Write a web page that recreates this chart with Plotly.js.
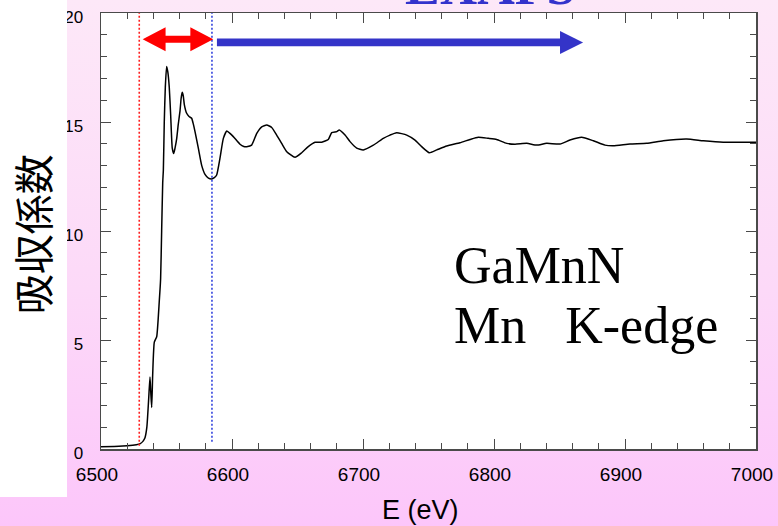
<!DOCTYPE html>
<html>
<head>
<meta charset="utf-8">
<script src="https://cdn.plot.ly/plotly-3.0.1.min.js"></script>
<style>
  html, body { margin: 0; padding: 0; }
  body {
    width: 778px; height: 526px; overflow: hidden;
    background: linear-gradient(to bottom, #fde8f8 0%, #fcd9f8 55%, #fcc6fa 100%);
  }
  #chart { width: 778px; height: 526px; }
</style>
</head>
<body>
<div id="chart"></div>
<script>
// Mn K-edge absorption spectrum of GaMnN
const energy = [
  6500, 6510, 6520, 6527, 6530, 6532, 6533.5, 6535, 6536.3, 6537.4,
  6538, 6538.7, 6539.5, 6540.7, 6542.5, 6544.5, 6545.5, 6546.3, 6547.1, 6547.6,
  6548.3, 6549.1, 6550.1, 6551, 6552.1, 6553.2, 6554.4, 6555.5, 6556.5, 6557.8,
  6559, 6560.3, 6561.2, 6562, 6562.8, 6563.6, 6565.4, 6567.2, 6569.2, 6570.5,
  6571.8, 6574.3, 6576.9, 6579.4, 6582, 6584.5, 6586.5, 6588.3, 6590.8, 6593.4,
  6596, 6598, 6601, 6606.1, 6609, 6611.2, 6615, 6618.9, 6622.7, 6626.5,
  6630.3, 6634.1, 6637.9, 6641.8, 6648.1, 6653.2, 6658.2, 6663.4, 6668.5, 6673.5,
  6676.1, 6680, 6681.9, 6686.3, 6690.1, 6695.2, 6700.2, 6707.9, 6715.5, 6720.6,
  6725.7, 6733.4, 6739.7, 6744.8, 6750.6, 6756.3, 6763.9, 6774, 6781.7, 6788,
  6795.7, 6802, 6809.7, 6816, 6825, 6832.6, 6840.2, 6850.4, 6858, 6866.9,
  6875.8, 6884.7, 6891, 6903.8, 6916.6, 6929.2, 6947, 6959.8, 6975, 6995.4, 7000
];
const absorption = [
  0.10, 0.12, 0.15, 0.20, 0.25, 0.35, 0.50, 1.00, 2.20, 3.30,
  2.60, 1.90, 3.50, 4.90, 5.15, 6.80, 7.80, 10.0, 12.2, 12.8,
  15.0, 16.6, 17.55, 17.3, 16.6, 15.3, 13.8, 13.55, 13.8, 14.25,
  14.9, 15.5, 16.1, 16.36, 16.2, 15.8, 15.4, 15.25, 15.17, 14.9,
  14.55, 13.8, 13.0, 12.6, 12.43, 12.39, 12.45, 12.57, 13.33, 14.25,
  14.59, 14.5, 14.33, 13.98, 13.88, 13.87, 13.94, 14.48, 14.78, 14.86,
  14.75, 14.4, 14.02, 13.64, 13.38, 13.59, 13.87, 14.07, 14.07, 14.2,
  14.51, 14.56, 14.63, 14.4, 14.1, 13.8, 13.72, 13.94, 14.25, 14.4,
  14.51, 14.4, 14.17, 13.87, 13.59, 13.72, 13.9, 14.05, 14.2, 14.3,
  14.25, 14.2, 14.02, 13.98, 14.02, 13.94, 14.02, 13.99, 14.17, 14.3,
  14.14, 13.94, 13.91, 13.99, 14.02, 14.14, 14.22, 14.14, 14.07, 14.07, 14.07
];

const xTicks = [6500, 6600, 6700, 6800, 6900, 7000];
const yTicks = [0, 5, 10, 15, 20];

// Region markers (eV): absorption edge, end of XANES, end of EXAFS arrow
const edgeE = 6529.2;
const xanesEndE = 6584.7;
const exafsArrowEndE = 6868;

// double-headed arrow path in data coordinates
function doubleArrow(x0, x1, yc, headLen, headHalf, shaftHalf) {
  const a = x0 + headLen, b = x1 - headLen;
  return `M${x0},${yc} L${a},${yc + headHalf} L${a},${yc + shaftHalf} L${b},${yc + shaftHalf} ` +
         `L${b},${yc + headHalf} L${x1},${yc} L${b},${yc - headHalf} L${b},${yc - shaftHalf} ` +
         `L${a},${yc - shaftHalf} L${a},${yc - headHalf} Z`;
}
function rightArrow(x0, x1, yc, headLen, headHalf, shaftHalf) {
  const b = x1 - headLen;
  return `M${x0},${yc + shaftHalf} L${b},${yc + shaftHalf} L${b},${yc + headHalf} L${x1},${yc} ` +
         `L${b},${yc - headHalf} L${b},${yc - shaftHalf} L${x0},${yc - shaftHalf} Z`;
}

const trace = {
  x: energy, y: absorption, type: 'scatter', mode: 'lines',
  line: { color: '#000', width: 1.5, shape: 'spline', smoothing: 0.5 },
  hoverinfo: 'skip'
};

const axisCommon = {
  showline: true, linecolor: '#4a4a4a', linewidth: 1.5, mirror: 'ticks',
  ticks: 'inside', ticklen: 10, tickwidth: 1, tickcolor: '#4a4a4a',
  showgrid: false, zeroline: false, fixedrange: true
};

const layout = {
  width: 778, height: 526,
  margin: { l: 101, r: 22, t: 13, b: 77 },
  paper_bgcolor: 'rgba(0,0,0,0)',
  plot_bgcolor: '#ffffff',
  showlegend: false,
  font: { family: 'Liberation Sans, Arial, sans-serif', color: '#000' },
  xaxis: Object.assign({}, axisCommon, {
    range: [6500, 7000], tickvals: xTicks, ticktext: xTicks.map(String),
    tickfont: { size: 19, family: 'Liberation Sans, Arial, sans-serif' },
    ticklabelstandoff: 8, ticklabelshift: -4,
    minor: { dtick: 20, ticks: 'inside', ticklen: 6, tickcolor: '#4a4a4a', showgrid: false }
  }),
  yaxis: Object.assign({}, axisCommon, {
    range: [0, 20], tickvals: yTicks, ticktext: yTicks.map(String),
    tickfont: { size: 17, family: 'Liberation Sans, Arial, sans-serif' },
    ticklabelstandoff: 13, ticklabelshift: 4,
    minor: { dtick: 1, ticks: 'inside', ticklen: 6, tickcolor: '#4a4a4a', showgrid: false }
  }),
  shapes: [
    // white panel behind the vertical axis title
    { type: 'rect', xref: 'paper', yref: 'paper', x0: -0.16, x1: -0.0519, y0: -0.110, y1: 1.1,
      fillcolor: '#ffffff', line: { width: 0 }, layer: 'above' },
    // edge position and XANES/EXAFS boundary
    { type: 'line', xref: 'x', yref: 'y', x0: edgeE, x1: edgeE, y0: 0.15, y1: 20,
      line: { color: '#ff2020', width: 1.6, dash: '2px,2px' } },
    { type: 'line', xref: 'x', yref: 'y', x0: xanesEndE, x1: xanesEndE, y0: 0.33, y1: 20,
      line: { color: '#3344dd', width: 1.6, dash: '2px,2px' } },
    // XANES range arrow
    { type: 'path', xref: 'x', yref: 'y',
      path: doubleArrow(edgeE + 2.6, xanesEndE + 1.0, 18.8, 17.5, 0.55, 0.16),
      fillcolor: '#ff0000', line: { width: 0 } },
    // EXAFS range arrow
    { type: 'path', xref: 'x', yref: 'y',
      path: rightArrow(xanesEndE + 3.8, exafsArrowEndE, 18.65, 17.6, 0.53, 0.18),
      fillcolor: '#3434c8', line: { width: 0 } }
  ],
  annotations: [
    { text: 'EXAFS', xref: 'paper', yref: 'paper', x: 0.594, y: 0.9908,
      xanchor: 'center', yanchor: 'bottom', showarrow: false,
      font: { family: 'Liberation Serif, Times New Roman, serif', size: 52, color: '#3333cc', weight: 'bold' } },
    { text: 'GaMnN', xref: 'paper', yref: 'paper', x: 0.536, y: 0.421,
      xanchor: 'left', yanchor: 'middle', showarrow: false,
      font: { family: 'Liberation Serif, Times New Roman, serif', size: 52, color: '#000' } },
    { text: 'Mn&nbsp;&nbsp;&nbsp;K-edge', xref: 'paper', yref: 'paper', x: 0.536, y: 0.283,
      xanchor: 'left', yanchor: 'middle', showarrow: false,
      font: { family: 'Liberation Serif, Times New Roman, serif', size: 52, color: '#000' } },
    { text: 'E (eV)', xref: 'paper', yref: 'paper', x: 0.4885, y: -0.1405,
      xanchor: 'center', yanchor: 'middle', showarrow: false,
      font: { family: 'Liberation Sans, Arial, sans-serif', size: 27, color: '#000' } },
    { text: '吸収係数', xref: 'paper', yref: 'paper', x: -0.105, y: 0.493,
      xanchor: 'center', yanchor: 'middle', showarrow: false, textangle: -90,
      font: { family: 'Noto Sans CJK JP, sans-serif', size: 40, color: '#000' } }
  ]
};

Plotly.newPlot('chart', [trace], layout, { staticPlot: true, displayModeBar: false });
</script>
</body>
</html>
